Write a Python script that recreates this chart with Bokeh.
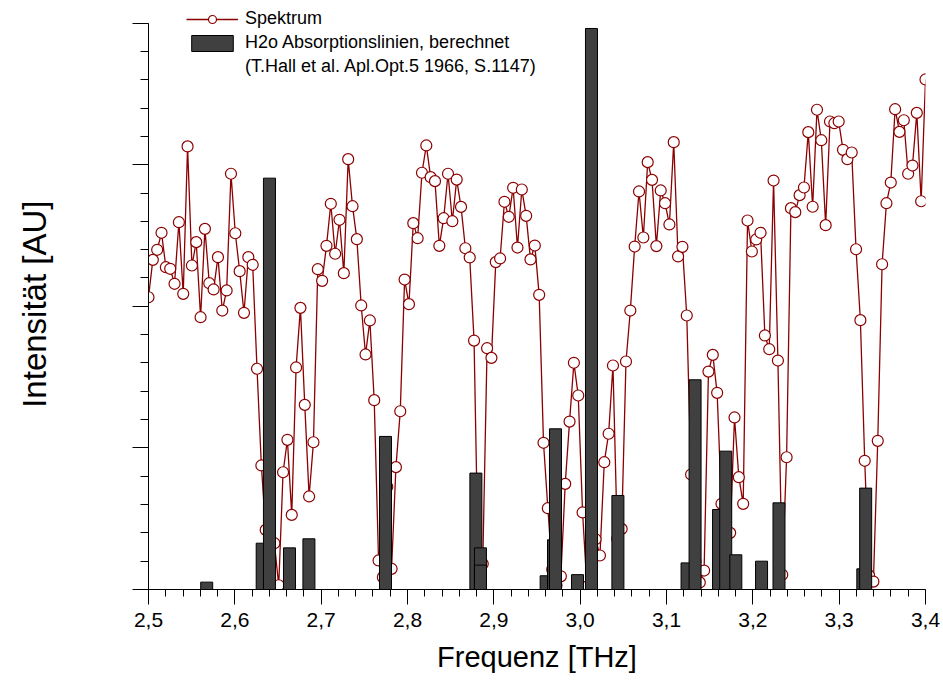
import numpy as np
from bokeh.plotting import figure
from bokeh.models import (Range1d, SingleIntervalTicker, FixedTicker,
                          CustomJSTickFormatter, Legend, LegendItem)
from bokeh.embed import file_html
from bokeh.resources import INLINE

# ---------------- data ----------------
# measured spectrum, sampled uniformly from freq_start to freq_stop (THz)
freq_start = 2.5
freq_stop = 3.4
intensity = [
    2.064, 2.328, 2.399, 2.519, 2.276, 2.265, 2.159, 2.594, 2.088, 3.129,
    2.288, 2.453, 1.923, 2.547, 2.163, 2.119, 2.347, 1.970, 2.112, 2.936,
    2.516, 2.248, 1.954, 2.347, 2.293, 1.559, 0.876, 0.421, 0.155, 0.327,
    0.030, 0.828, 1.057, 0.527, 1.568, 1.989, 1.304, 0.657, 1.040, 2.262,
    2.180, 2.427, 2.724, 2.371, 2.611, 2.234, 3.039, 2.707, 2.474, 2.006,
    1.660, 1.900, 1.337, 0.205, 0.087, 0.725, 0.146, 0.864, 1.259, 2.189,
    2.015, 2.587, 2.481, 2.943, 3.136, 2.912, 2.884, 2.427, 2.622, 2.936,
    2.601, 2.895, 2.702, 2.410, 2.345, 1.758, 0.100, 0.181, 1.704, 1.636,
    2.312, 2.338, 2.738, 2.632, 2.837, 2.415, 2.825, 2.639, 2.331, 2.429,
    2.081, 1.036, 0.574, 0.142, 0.030, 0.093, 0.746, 1.186, 1.601, 1.370,
    0.544, 0.020, 0.100, 0.355, 0.240, 0.899, 1.100, 1.582, 0.360, 0.428,
    1.610, 1.970, 2.422, 2.811, 2.486, 3.018, 2.893, 2.425, 2.818, 2.728,
    2.578, 3.159, 2.352, 2.420, 1.935, 0.812, 0.200, 0.050, 0.134, 1.539,
    1.657, 1.389, 0.605, 0.150, 0.400, 1.215, 0.793, 0.605, 2.606, 2.387,
    2.472, 2.519, 1.794, 1.697, 2.888, 1.617, 0.104, 0.934, 2.693, 2.665,
    2.785, 2.839, 3.230, 2.703, 3.388, 3.173, 2.573, 3.305, 3.293, 3.305,
    3.105, 3.039, 3.086, 2.403, 1.902, 0.909, 0.100, 0.056, 1.050, 2.297,
    2.728, 2.874, 3.392, 3.232, 3.314, 2.936, 2.994, 3.366, 2.742, 3.602,
]
freq = np.linspace(freq_start, freq_stop, len(intensity))

# calculated H2O absorption lines (THz, relative strength)
line_freq = [2.5674, 2.6317, 2.6401, 2.6633, 2.6858, 2.7745, 2.8792, 2.8845,
             2.8845, 2.9606, 2.9691, 2.9714, 2.9969, 3.0131, 3.0437, 3.1238,
             3.1331, 3.1603, 3.1686, 3.1803, 3.2101, 3.2303, 3.3274, 3.3307]
line_strength = [0.052, 0.327, 2.905, 0.294, 0.358, 1.081, 0.822, 0.294,
                 0.172, 0.097, 0.351, 1.135, 0.105, 3.962, 0.664, 0.188,
                 1.481, 0.565, 0.977, 0.245, 0.200, 0.612, 0.146, 0.716]

# x tick positions (THz)
x_major_ticks = [2.5, 2.6, 2.7, 2.8, 2.9, 3.0, 3.1, 3.2, 3.3, 3.4]
x_minor_ticks = [round(2.5 + 0.02 * k, 2) for k in range(46)]

label_spec = "Spektrum"
label_lines = "H2o Absorptionslinien, berechnet"
label_ref = "(T.Hall et al. Apl.Opt.5 1966, S.1147)"

# ---------------- figure ----------------
FONT = "Liberation Sans"
RED = "#8B0000"

p = figure(width=943, height=682,
           x_range=Range1d(2.5, 3.4), y_range=Range1d(0, 4.1596),
           output_backend="svg", toolbar_location=None,
           min_border_left=148, min_border_right=18,
           min_border_top=0, min_border_bottom=93)
p.outline_line_color = None
p.grid.visible = False
p.background_fill_color = "white"

l_r = p.line(freq, intensity, line_color=RED, line_width=1.3)
s_r = p.scatter(freq, intensity, marker="circle", size=11,
                fill_color="white", line_color=RED, line_width=1.2)
b_r = p.vbar(x=line_freq, top=line_strength, bottom=0, width=0.0139,
             fill_color="#404040", line_color="black", line_width=1)
dummy = p.line([freq_start], [0], line_alpha=0)

# x axis
xa = p.xaxis[0]
xa.ticker = FixedTicker(ticks=x_major_ticks, minor_ticks=x_minor_ticks)
xa.formatter = CustomJSTickFormatter(code="return tick.toFixed(1).replace('.', ',')")
xa.axis_label = "Frequenz [THz]"
xa.axis_label_text_font = FONT
xa.axis_label_text_font_size = "29px"
xa.axis_label_text_font_style = "normal"
xa.axis_label_text_color = "black"
xa.axis_label_standoff = 11
xa.major_label_text_font = FONT
xa.major_label_text_font_size = "21px"
xa.major_label_text_color = "black"
xa.major_label_standoff = 8
xa.major_tick_out = 15
xa.major_tick_in = 0
xa.minor_tick_out = 7
xa.minor_tick_in = 0
xa.axis_line_color = "black"
xa.major_tick_line_color = "black"
xa.minor_tick_line_color = "black"

# y axis (no tick labels), drawn only over 0..4
ya = p.yaxis[0]
ya.bounds = (0, 4)
ya.ticker = SingleIntervalTicker(interval=1, num_minor_ticks=5)
ya.formatter = CustomJSTickFormatter(code="return ''")
ya.axis_label = "Intensität [AU]\u00a0\u00a0"
ya.axis_label_text_font = FONT
ya.axis_label_text_font_size = "33px"
ya.axis_label_text_font_style = "normal"
ya.axis_label_text_color = "black"
ya.axis_label_standoff = 80
ya.major_tick_out = 16
ya.major_tick_in = 0
ya.minor_tick_out = 8
ya.minor_tick_in = 0
ya.axis_line_color = "black"
ya.major_tick_line_color = "black"
ya.minor_tick_line_color = "black"

legend = Legend(items=[LegendItem(label=label_spec, renderers=[l_r, s_r]),
                       LegendItem(label=label_lines, renderers=[b_r]),
                       LegendItem(label=label_ref, renderers=[dummy])],
                location=(38, 512), padding=0, margin=0, spacing=3,
                glyph_width=52, glyph_height=20, label_height=20,
                label_standoff=7, label_text_font=FONT,
                label_text_font_size="18px", label_text_color="black",
                background_fill_alpha=0, border_line_alpha=0)
p.add_layout(legend)

open("out.html", "w").write(file_html(p, INLINE))
